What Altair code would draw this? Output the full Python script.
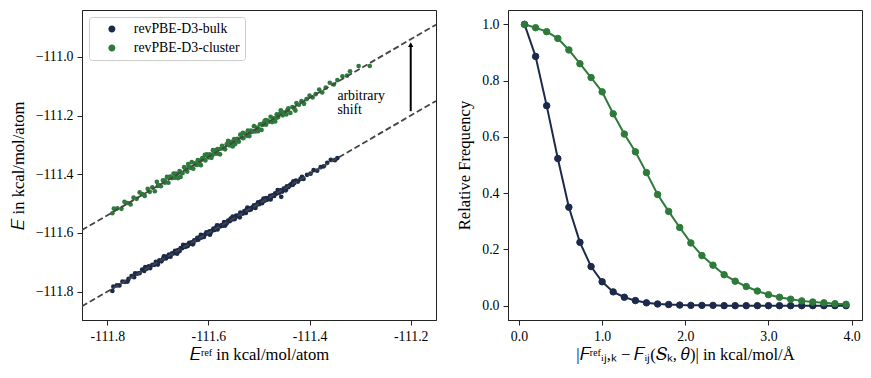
import altair as alt
import pandas as pd

SERIES = ["revPBE-D3-bulk", "revPBE-D3-cluster"]
COLORS = ["#1b2a4a", "#2e7a3b"]
FONT = "Liberation Serif"

# ---------------- left panel: scatter ----------------
bulk_x = [-111.790, -111.788, -111.781, -111.776, -111.770, -111.765, -111.758, -111.752, -111.747, -111.741,
          -111.736, -111.731, -111.727, -111.722, -111.718, -111.715, -111.711, -111.707, -111.704, -111.700,
          -111.697, -111.693, -111.690, -111.687, -111.684, -111.681, -111.678, -111.675, -111.672, -111.669,
          -111.666, -111.663, -111.660, -111.657, -111.655, -111.652, -111.649, -111.646, -111.644, -111.641,
          -111.638, -111.636, -111.633, -111.630, -111.628, -111.625, -111.622, -111.620, -111.617, -111.614,
          -111.612, -111.609, -111.606, -111.604, -111.601, -111.598, -111.596, -111.593, -111.590, -111.588,
          -111.585, -111.582, -111.580, -111.577, -111.574, -111.572, -111.569, -111.566, -111.564, -111.561,
          -111.558, -111.556, -111.553, -111.550, -111.548, -111.545, -111.542, -111.540, -111.537, -111.534,
          -111.532, -111.529, -111.526, -111.524, -111.521, -111.518, -111.516, -111.513, -111.510, -111.508,
          -111.505, -111.502, -111.500, -111.497, -111.494, -111.492, -111.489, -111.486, -111.484, -111.481,
          -111.478, -111.476, -111.473, -111.470, -111.468, -111.465, -111.462, -111.460, -111.457, -111.454,
          -111.451, -111.448, -111.445, -111.442, -111.439, -111.436, -111.433, -111.430, -111.427, -111.423,
          -111.418, -111.412, -111.405, -111.398, -111.392, -111.385, -111.378, -111.372, -111.365, -111.358,
          -111.350, -111.345, -111.456,
          -111.745, -111.700, -111.688, -111.662, -111.650, -111.631, -111.615, -111.597, -111.583, -111.567,
          -111.552, -111.538, -111.523, -111.507, -111.491, -111.477, -111.463, -111.447, -111.432, -111.415,
          -111.680, -111.760, -111.725, -111.639, -111.603, -111.571, -111.546, -111.519, -111.496, -111.471]
bulk_y = [-111.798, -111.783, -111.779, -111.779, -111.766, -111.767, -111.757, -111.747, -111.751, -111.739,
          -111.737, -111.725, -111.730, -111.722, -111.714, -111.720, -111.709, -111.709, -111.699, -111.701,
          -111.694, -111.697, -111.689, -111.681, -111.687, -111.681, -111.674, -111.681, -111.670, -111.670,
          -111.661, -111.666, -111.659, -111.662, -111.652, -111.652, -111.643, -111.648, -111.642, -111.645,
          -111.634, -111.637, -111.632, -111.636, -111.625, -111.625, -111.617, -111.623, -111.615, -111.616,
          -111.608, -111.614, -111.605, -111.598, -111.602, -111.595, -111.600, -111.593, -111.585, -111.590,
          -111.583, -111.588, -111.576, -111.578, -111.573, -111.575, -111.563, -111.566, -111.568, -111.558,
          -111.560, -111.551, -111.554, -111.548, -111.553, -111.541, -111.542, -111.543, -111.531, -111.533,
          -111.534, -111.526, -111.532, -111.519, -111.522, -111.516, -111.520, -111.513, -111.506, -111.511,
          -111.504, -111.496, -111.502, -111.494, -111.499, -111.490, -111.490, -111.481, -111.487, -111.481,
          -111.474, -111.478, -111.472, -111.474, -111.465, -111.466, -111.457, -111.463, -111.455, -111.459,
          -111.449, -111.449, -111.441, -111.444, -111.438, -111.433, -111.436, -111.430, -111.422, -111.425,
          -111.416, -111.416, -111.402, -111.398, -111.386, -111.388, -111.376, -111.373, -111.361, -111.351,
          -111.352, -111.345, -111.477,
          -111.738, -111.708, -111.680, -111.671, -111.641, -111.639, -111.607, -111.606, -111.574, -111.575,
          -111.544, -111.547, -111.514, -111.515, -111.483, -111.486, -111.454, -111.455, -111.424, -111.409,
          -111.680, -111.766, -111.717, -111.639, -111.601, -111.575, -111.545, -111.522, -111.493, -111.471]

cluster_x = [-111.790, -111.787, -111.780, -111.772, -111.766, -111.760, -111.754, -111.748, -111.742, -111.736,
             -111.731, -111.726, -111.720, -111.716, -111.711, -111.706, -111.702, -111.698, -111.694, -111.690,
             -111.686, -111.682, -111.679, -111.675, -111.672, -111.669, -111.666, -111.663, -111.660, -111.657,
             -111.654, -111.651, -111.648, -111.645, -111.642, -111.639, -111.636, -111.633, -111.630, -111.627,
             -111.624, -111.621, -111.618, -111.615, -111.612, -111.609, -111.606, -111.603, -111.600, -111.597,
             -111.594, -111.591, -111.588, -111.585, -111.582, -111.579, -111.576, -111.573, -111.570, -111.567,
             -111.564, -111.561, -111.558, -111.555, -111.552, -111.549, -111.546, -111.543, -111.540, -111.537,
             -111.534, -111.531, -111.528, -111.525, -111.522, -111.519, -111.516, -111.513, -111.510, -111.507,
             -111.504, -111.501, -111.498, -111.495, -111.492, -111.489, -111.486, -111.483, -111.480, -111.477,
             -111.474, -111.471, -111.468, -111.465, -111.462, -111.459, -111.456, -111.453, -111.450, -111.446,
             -111.442, -111.438, -111.434, -111.430, -111.426, -111.421, -111.416, -111.411, -111.406, -111.400,
             -111.394, -111.388, -111.381, -111.375, -111.368, -111.360, -111.352, -111.345, -111.335, -111.326,
             -111.320, -111.303, -111.281,
             -111.700, -111.676, -111.655, -111.640, -111.622, -111.607, -111.592, -111.577, -111.562, -111.547,
             -111.532, -111.517, -111.502, -111.487, -111.472, -111.457, -111.444, -111.428, -111.614, -111.585,
             -111.553, -111.523, -111.493, -111.465, -111.634, -111.664, -111.686]
cluster_y = [-111.533, -111.517, -111.516, -111.518, -111.494, -111.498, -111.503, -111.480, -111.484, -111.462,
             -111.468, -111.474, -111.450, -111.460, -111.445, -111.458, -111.426, -111.437, -111.441, -111.421,
             -111.429, -111.409, -111.429, -111.410, -111.413, -111.398, -111.412, -111.400, -111.413, -111.389,
             -111.394, -111.396, -111.376, -111.383, -111.391, -111.373, -111.378, -111.359, -111.381, -111.363,
             -111.368, -111.352, -111.359, -111.369, -111.345, -111.348, -111.353, -111.332, -111.343, -111.332,
             -111.344, -111.318, -111.328, -111.330, -111.314, -111.331, -111.313, -111.303, -111.312, -111.315,
             -111.298, -111.286, -111.302, -111.293, -111.305, -111.280, -111.287, -111.279, -111.289, -111.265,
             -111.274, -111.277, -111.261, -111.268, -111.251, -111.270, -111.251, -111.255, -111.236, -111.254,
             -111.241, -111.245, -111.230, -111.249, -111.231, -111.219, -111.231, -111.217, -111.221, -111.204,
             -111.222, -111.209, -111.220, -111.196, -111.205, -111.195, -111.185, -111.199, -111.190, -111.196,
             -111.175, -111.191, -111.171, -111.177, -111.157, -111.163, -111.151, -111.160, -111.144, -111.132,
             -111.138, -111.127, -111.111, -111.121, -111.105, -111.088, -111.094, -111.079, -111.066, -111.064,
             -111.049, -111.031, -111.031,
             -111.440, -111.408, -111.409, -111.365, -111.368, -111.334, -111.334, -111.332, -111.295, -111.297,
             -111.259, -111.257, -111.253, -111.215, -111.216, -111.182, -111.182, -111.183, -111.351, -111.318,
             -111.289, -111.269, -111.228, -111.207, -111.378, -111.398, -111.422]

# dashed guide lines (parity line and shifted parity line)
guide_x = [-111.85, -111.15, -111.85, -111.15]
guide_y = [-111.85, -111.15, -111.59, -110.89]
guide_id = ["parity", "parity", "shifted", "shifted"]

# arrow and annotation
arrow_x = [-111.2]
arrow_y0 = [-111.185]
arrow_y1 = [-110.958]
note_x = [-111.345, -111.345]
note_y = [-111.133, -111.181]
note_text = ["arbitrary", "shift"]

# ---------------- right panel: curves ----------------
err_x = [0.067, 0.200, 0.333, 0.467, 0.600, 0.733, 0.867, 1.000, 1.133, 1.267,
         1.400, 1.533, 1.667, 1.800, 1.933, 2.067, 2.200, 2.333, 2.467, 2.600,
         2.733, 2.867, 3.000, 3.133, 3.267, 3.400, 3.533, 3.667, 3.800, 3.933]
bulk_freq = [1.000, 0.886, 0.711, 0.523, 0.350, 0.225, 0.139, 0.085, 0.049, 0.030,
             0.018, 0.010, 0.006, 0.004, 0.002, 0.001, 0.001, 0.001, 0.000, 0.000,
             0.000, 0.000, 0.000, 0.000, 0.000, 0.000, 0.000, 0.000, 0.000, 0.000]
cluster_freq = [1.000, 0.988, 0.974, 0.950, 0.909, 0.860, 0.811, 0.760, 0.682, 0.610,
                0.547, 0.473, 0.395, 0.335, 0.278, 0.223, 0.178, 0.144, 0.110, 0.087,
                0.068, 0.052, 0.039, 0.030, 0.023, 0.017, 0.013, 0.010, 0.007, 0.005]

# ---------------- data frames ----------------
scatter = pd.DataFrame({
    "x": bulk_x + cluster_x,
    "y": bulk_y + cluster_y,
    "series": [SERIES[0]] * len(bulk_x) + [SERIES[1]] * len(cluster_x),
})
guides = pd.DataFrame({"x": guide_x, "y": guide_y, "id": guide_id})
arrow = pd.DataFrame({"x": arrow_x, "y": arrow_y0, "y2": arrow_y1})
notes = pd.DataFrame({"x": note_x, "y": note_y, "t": note_text})
curves = pd.DataFrame({
    "x": err_x + err_x,
    "f": bulk_freq + cluster_freq,
    "series": [SERIES[0]] * len(err_x) + [SERIES[1]] * len(err_x),
})

W, H = 354, 310
# legend symbols, drawn with scale sqrt(121)/2 = 5.5 px per unit (shifted right inside the box)
LINE_PATH = "M-1.82,0L2.90,0M1.18,0A0.64,0.64,0,1,1,-0.10,0A0.64,0.64,0,1,1,1.18,0Z"
DOT_PATH = "M1.18,0A0.64,0.64,0,1,1,-0.10,0A0.64,0.64,0,1,1,1.18,0Z"

BASE = dict(labelFont=FONT, titleFont=FONT, labelFontSize=13.8, titleFontSize=16.6,
            labelColor="black", titleColor="black", titleFontWeight="normal",
            grid=False, domainColor="#222222", tickColor="#222222", tickSize=5,
            labelPadding=4)
AXX = dict(BASE, titlePadding=4)
AXY = dict(BASE, titlePadding=9)


def legend(orient, path, sw):
    return alt.Legend(
        title=None, orient=orient, offset=7, padding=5,
        strokeColor="#cccccc", cornerRadius=3, fillColor="white",
        labelFont=FONT, labelFontSize=13.8, labelColor="black",
        symbolType=path, symbolSize=121, symbolStrokeWidth=sw,
        symbolOffset=8, labelOffset=18, rowPadding=4, symbolOpacity=1,
    )


xs_left = alt.Scale(domain=[-111.85, -111.15], nice=False, zero=False)
ys_left = alt.Scale(domain=[-111.897, -110.84], nice=False, zero=False)

x_left = alt.X("x:Q", scale=xs_left, title="𝐸ʳᵉᶠ in kcal/mol/atom",
               axis=alt.Axis(values=[-111.8, -111.6, -111.4, -111.2],
                             labelExpr="replace(format(datum.value, '.1f'), '−', '-')", **AXX))
y_left = alt.Y("y:Q", scale=ys_left, title="𝐸 in kcal/mol/atom",
               axis=alt.Axis(values=[-111.8, -111.6, -111.4, -111.2, -111.0], format=".1f",
                             **AXY))

pts = alt.Chart(scatter).mark_circle(size=22, opacity=1).encode(
    x=x_left, y=y_left,
    color=alt.Color("series:N", scale=alt.Scale(domain=SERIES, range=COLORS),
                    legend=legend("top-left", DOT_PATH, 0)),
)
lines = alt.Chart(guides).mark_line(color="#444444", strokeWidth=1.8,
                                    strokeDash=[6, 3], clip=True).encode(
    x=alt.X("x:Q", scale=xs_left), y=alt.Y("y:Q", scale=ys_left), detail="id:N")
arr = alt.Chart(arrow).mark_rule(color="black", strokeWidth=2).encode(
    x=alt.X("x:Q", scale=xs_left), y=alt.Y("y:Q", scale=ys_left), y2="y2:Q")
head = alt.Chart(arrow).mark_point(shape="triangle-up", filled=True, color="black",
                                   size=28, opacity=1).encode(
    x=alt.X("x:Q", scale=xs_left), y=alt.Y("y2:Q", scale=ys_left))
txt = alt.Chart(notes).mark_text(align="left", baseline="middle", font=FONT,
                                 fontSize=13.8, color="black").encode(
    x=alt.X("x:Q", scale=xs_left), y=alt.Y("y:Q", scale=ys_left), text="t:N")

left = alt.layer(pts, lines, arr, head, txt).properties(width=W, height=H)

xs_right = alt.Scale(domain=[-0.132, 4.125], nice=False, zero=False)
ys_right = alt.Scale(domain=[-0.051, 1.051], nice=False, zero=False)
x_right = alt.X("x:Q", scale=xs_right,
                title="|𝐹ʳᵉᶠᵢⱼ,ₖ − 𝐹ᵢⱼ(𝑆ₖ, 𝜃)| in kcal/mol/Å",
                axis=alt.Axis(values=[0, 1, 2, 3, 4], format=".1f", **AXX))
y_right = alt.Y("f:Q", scale=ys_right, title="Relative Frequency",
                axis=alt.Axis(values=[0, 0.2, 0.4, 0.6, 0.8, 1.0], format=".1f", **AXY))
cscale = alt.Scale(domain=SERIES, range=COLORS)
rl = alt.Chart(curves).mark_line(strokeWidth=2).encode(
    x=x_right, y=y_right,
    color=alt.Color("series:N", scale=cscale, legend=None))
rp = alt.Chart(curves).mark_point(filled=True, size=42, opacity=1, strokeWidth=1).encode(
    x=x_right, y=y_right,
    fill=alt.Fill("series:N", scale=cscale, legend=legend("top-right", LINE_PATH, 2)),
    stroke=alt.Stroke("series:N", scale=cscale, legend=legend("top-right", LINE_PATH, 2)))
right = alt.layer(rl, rp).properties(width=W, height=H)

chart = alt.hconcat(left, right, spacing=19).resolve_scale(
    color="independent", fill="independent", stroke="independent"
).resolve_legend(color="independent", fill="independent", stroke="independent").properties(
    padding={"left": 1, "top": 1, "right": 0, "bottom": 0}
).configure(font=FONT).configure_view(stroke="#222222", strokeWidth=1)

chart.save("out.html", embed_options={"renderer": "svg", "actions": False})
